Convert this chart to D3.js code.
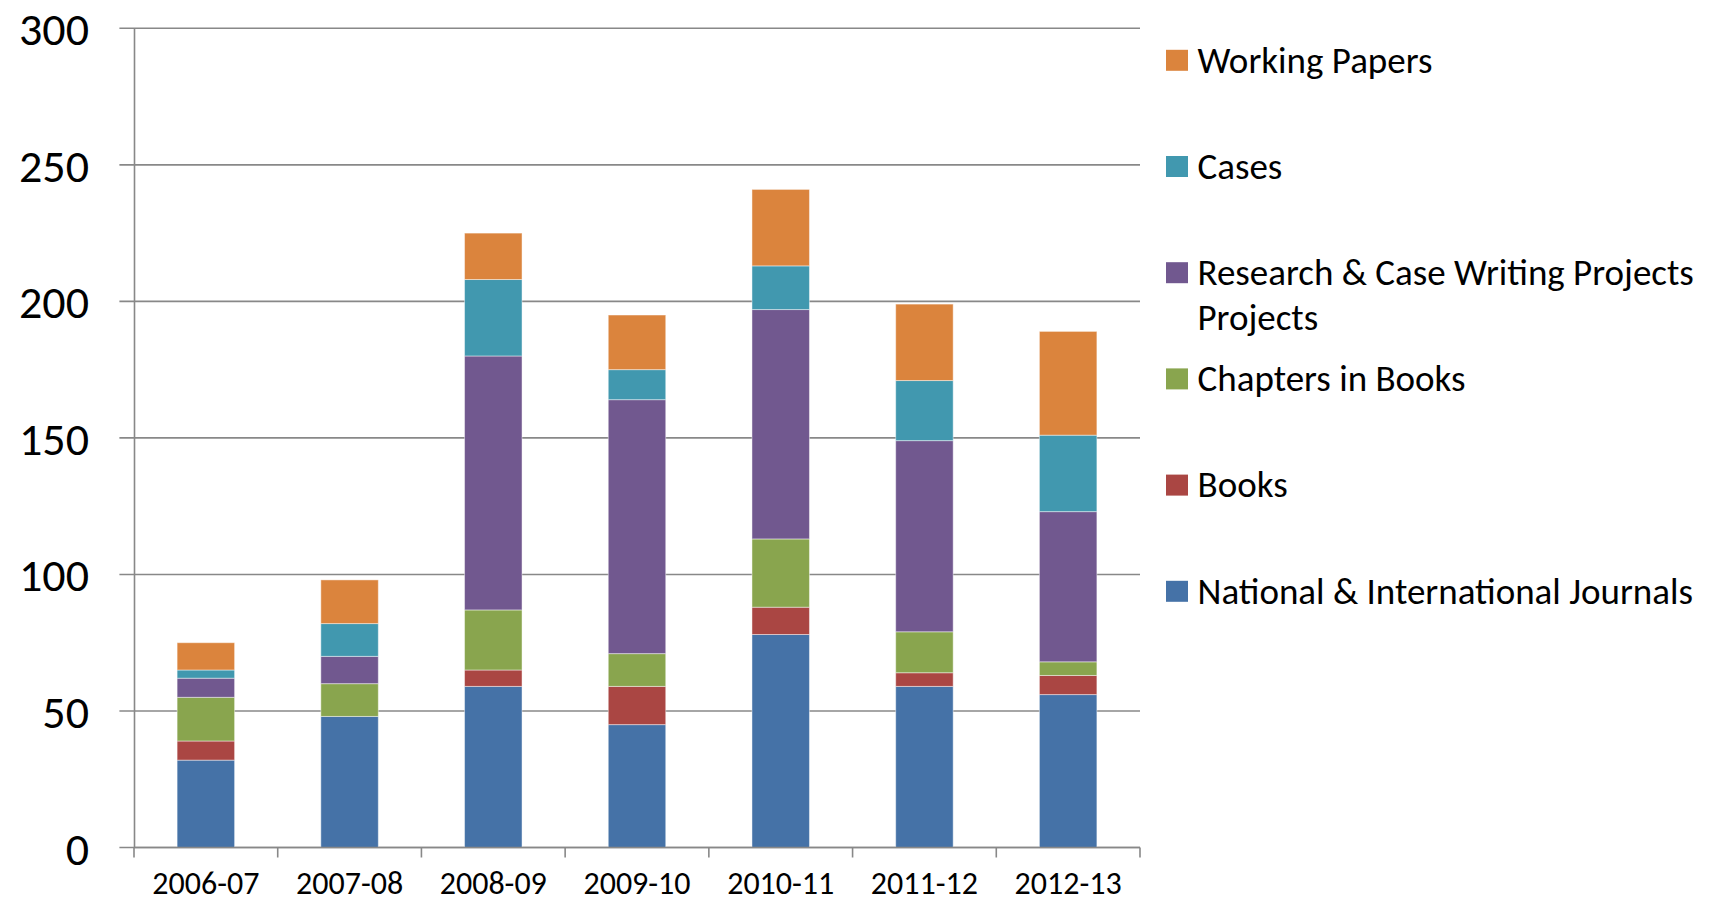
<!DOCTYPE html>
<html>
<head>
<meta charset="utf-8">
<script src="https://cdn.jsdelivr.net/npm/d3@7"></script>
<style>
  html, body { margin: 0; padding: 0; background: #fff; }
  .container { width: 1711px; height: 904px; }
  text { font-family: Calibri, Carlito, Lato, sans-serif; fill: #000; }
</style>
</head>
<body>
<div class="container"></div>
<script>
const years = ['2006-07', '2007-08', '2008-09', '2009-10', '2010-11', '2011-12', '2012-13']
const journals = [32, 48, 59, 45, 78, 59, 56]
const books = [7, 0, 6, 14, 10, 5, 7]
const chapters = [16, 12, 22, 12, 25, 15, 5]
const projects = [7, 10, 93, 93, 84, 70, 55]
const cases = [3, 12, 28, 11, 16, 22, 28]
const workingPapers = [10, 16, 17, 20, 28, 28, 38]
const yTicks = [0, 50, 100, 150, 200, 250, 300]

const series = [
  { key: 'journals', label: ['National & International Journals'], color: '#4572a7', values: journals },
  { key: 'books', label: ['Books'], color: '#aa4643', values: books },
  { key: 'chapters', label: ['Chapters in Books'], color: '#89a54e', values: chapters },
  { key: 'projects', label: ['Research & Case Writing Projects', 'Projects'], color: '#71588f', values: projects },
  { key: 'cases', label: ['Cases'], color: '#4198af', values: cases },
  { key: 'working', label: ['Working Papers'], color: '#db843d', values: workingPapers },
]

const fontStack = 'Calibri, Carlito, Lato, sans-serif'
const container = document.querySelector('.container')
const margin = { top: 28.3, right: 571, bottom: 56.5, left: 134 }
const width = 1711 - margin.left - margin.right
const height = 904 - margin.top - margin.bottom

const root = d3.select(container)
  .append('svg')
  .attr('width', 1711)
  .attr('height', 904)

const svg = root.append('g')
  .attr('transform', `translate(${margin.left},${margin.top})`)

// one row per year, keyed by series
const table = years.map((y, i) => {
  const row = { year: y }
  series.forEach((s) => { row[s.key] = s.values[i] })
  return row
})

const stacked = d3.stack().keys(series.map((s) => s.key))(table)

const x = d3.scaleBand().domain(years).range([0, width]).paddingInner(0.6).paddingOuter(0.3)
const y = d3.scaleLinear().domain([0, 300]).range([height, 0])

// gridlines + y tick stubs
svg.append('g')
  .selectAll('line')
  .data(yTicks)
  .enter()
  .append('line')
  .attr('x1', -14.6)
  .attr('x2', width)
  .attr('y1', (d) => y(d))
  .attr('y2', (d) => y(d))
  .attr('stroke', '#888')
  .attr('stroke-width', 1.6)

// y axis
const yAxis = svg.append('g')
  .call(d3.axisLeft(y).tickValues(yTicks).tickSize(0).tickPadding(45))
  .attr('font-family', fontStack)
  .attr('font-size', 46)
yAxis.select('.domain').attr('stroke', '#888').attr('stroke-width', 1.6)
yAxis.selectAll('text')
  .attr('dy', '0.36em')

// bars
svg.append('g')
  .selectAll('g')
  .data(stacked)
  .enter()
  .append('g')
  .attr('fill', (d, i) => series[i].color)
  .selectAll('rect')
  .data((d) => d)
  .enter()
  .append('rect')
  .attr('x', (d) => x(d.data.year))
  .attr('width', x.bandwidth())
  .attr('y', (d) => y(d[1]))
  .attr('height', (d) => y(d[0]) - y(d[1]))
  .attr('stroke', 'rgba(255,255,255,0.45)')
  .attr('stroke-width', 1)

// x axis
const step = width / years.length
const xAxis = svg.append('g')
  .attr('transform', `translate(0,${height})`)
xAxis.append('line')
  .attr('x1', 0)
  .attr('x2', width)
  .attr('stroke', '#888')
  .attr('stroke-width', 1.6)
xAxis.selectAll('.tick-mark')
  .data(d3.range(years.length + 1))
  .enter()
  .append('line')
  .attr('class', 'tick-mark')
  .attr('x1', (d) => d * step)
  .attr('x2', (d) => d * step)
  .attr('y1', 0)
  .attr('y2', 10)
  .attr('stroke', '#888')
  .attr('stroke-width', 1.6)
xAxis.selectAll('.xlabel')
  .data(years)
  .enter()
  .append('text')
  .attr('class', 'xlabel')
  .attr('x', (d) => x(d) + x.bandwidth() / 2)
  .attr('y', 46.5)
  .attr('text-anchor', 'middle')
  .attr('font-size', '32px')
  .text((d) => d)

// legend, top to bottom = reverse of stack order
const legendItems = series.slice().reverse()
const legend = root.append('g')
  .attr('transform', 'translate(1166,60.3)')

const item = legend.selectAll('g')
  .data(legendItems)
  .enter()
  .append('g')
  .attr('transform', (d, i) => `translate(0,${i * 106.2})`)

item.append('rect')
  .attr('x', 0)
  .attr('y', -10.5)
  .attr('width', 22)
  .attr('height', 21)
  .attr('fill', (d) => d.color)

item.each(function (d) {
  const t = d3.select(this).append('text')
    .attr('x', 31.5)
    .attr('y', 0)
    .attr('font-size', '37px')
  d.label.forEach((line, j) => {
    t.append('tspan')
      .attr('x', 31.5)
      .attr('y', j * 45.5)
      .attr('dy', '0.33em')
      .text(line)
  })
})
</script>
</body>
</html>
